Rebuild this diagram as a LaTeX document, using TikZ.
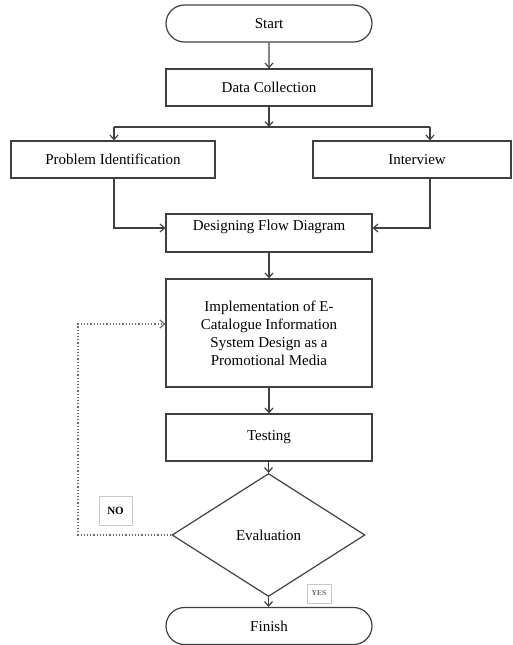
\documentclass[tikz,border=0pt]{standalone}
\usepackage{fontspec}
\setmainfont{Liberation Serif}
\usetikzlibrary{shapes.misc,shapes.geometric,arrows.meta}
\definecolor{linec}{HTML}{404040}
\definecolor{labc}{HTML}{C8C8C8}
\tikzset{
  box/.style={draw=linec, line width=1.2pt, rectangle, minimum width=206pt, inner sep=0pt,
    font=\fontsize{15}{18}\selectfont, align=center},
  term/.style={draw=linec, line width=1.2pt, rounded rectangle, minimum width=206pt, minimum height=37pt,
    inner sep=0pt, font=\fontsize{15}{18}\selectfont},
  dec/.style={draw=linec, line width=1.2pt, diamond, minimum width=193pt, minimum height=123pt,
    inner sep=0pt, font=\fontsize{15}{18}\selectfont},
  lab/.style={draw=labc, line width=1pt, rectangle, inner sep=0pt},
  arr/.style={draw=linec, line width=1.2pt, -{Straight Barb[length=4.5pt,width=8pt]}},
  ln/.style={draw=linec, line width=1.2pt},
  dotarr/.style={draw=gray!85!black, line width=1.2pt, dotted, -{Straight Barb[length=4.5pt,width=8pt]}}
}
\begin{document}
\begin{tikzpicture}[x=1pt,y=-1pt]
\useasboundingbox (0,0) rectangle (512,645);
\node[term] (start) at (269,23.5) {Start};
\node[box, minimum height=37pt] (data) at (269,87.5) {Data Collection};
\node[box, minimum width=204pt, minimum height=37pt] (pi) at (113,159.5) {Problem Identification};
\node[box, minimum width=198pt, minimum height=37pt] (iv) at (412,159.5) {\hspace*{10pt}Interview};
\node[box, minimum height=38pt] (dfd) at (269,233) {Designing Flow Diagram\\[-7pt]\strut};
\node[box, minimum height=108pt] (impl) at (269,333) {Implementation of E-\\Catalogue Information\\System Design as a\\Promotional Media};
\node[box, minimum height=47pt] (test) at (269,437.5) {Testing};
\node[dec] (eval) at (268.5,535) {Evaluation};
\node[term] (fin) at (269,626) {Finish};
\node[lab, minimum width=33pt, minimum height=29pt, font=\fontsize{11}{13}\selectfont\bfseries] (no) at (115.5,510.5) {NO};
\node[lab, minimum width=24pt, minimum height=19pt, font=\fontsize{7.5}{9}\selectfont\bfseries, text=gray!80!black] (yes) at (319,593.5) {YES};

\coordinate (j) at (269,127);
\coordinate (jl) at (114,127);
\coordinate (jr) at (430,127);
\coordinate (lp) at (78,535);
\coordinate (lq) at (78,324);

\draw[arr] (start) -- (data);
\draw[arr] (data) -- (j);
\draw[ln] (jl) -- (jr);
\draw[arr] (jl) -- (jl |- pi.north);
\draw[arr] (jr) -- (jr |- iv.north);
\draw[arr] (jl |- pi.south) |- (dfd.west |- 0,228);
\draw[arr] (jr |- iv.south) |- (dfd.east |- 0,228);
\draw[arr] (dfd) -- (impl);
\draw[arr] (impl) -- (test);
\draw[arr] (test.south -| eval.north) -- (eval.north);
\draw[arr] (eval.south) -- (eval.south |- fin.north);
\draw[dotarr] (eval.west) -- (lp) -- (lq) -- (impl.west |- lq);
\end{tikzpicture}
\end{document}
